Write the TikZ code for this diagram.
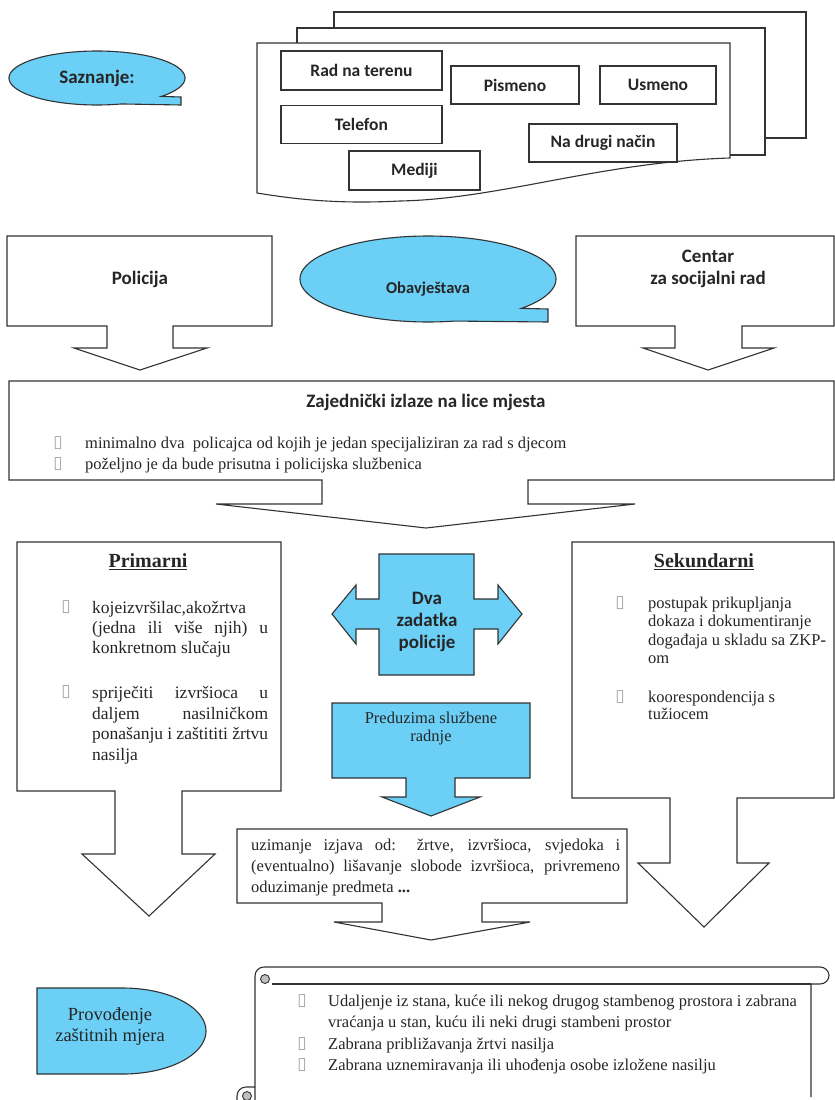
\documentclass[tikz,border=0pt]{standalone}
\usepackage{fontspec}
\setmainfont{Liberation Serif}
\newfontfamily\calfont{Carlito}
\newfontfamily\symfont{DejaVu Sans}
\definecolor{cblue}{HTML}{6BCFF6}
\definecolor{lcol}{HTML}{333333}
\definecolor{tcol}{HTML}{262626}
\newcommand\bulsym{\textcolor{black!35}{\symfont\fontsize{17}{17}\selectfont ▯}}
\tikzset{
  shp/.style={draw=lcol, line width=1.1pt, line join=miter},
  bshp/.style={shp, fill=cblue},
  wshp/.style={shp, fill=white},
  lbl/.style={font=\calfont\bfseries\fontsize{19}{22}\selectfont, text=tcol, inner sep=0pt, align=center},
  doclbl/.style={draw=lcol, line width=1.1pt, fill=white, inner sep=0pt, font=\calfont\bfseries\fontsize{17.5}{20}\selectfont, text=tcol},
  txt/.style={font=\fontsize{16.5}{20}\selectfont, text=tcol, inner sep=0pt, anchor=base west},
  ptxt/.style={font=\fontsize{17.5}{20}\selectfont, text=tcol, inner sep=0pt, anchor=base west},
  ttl/.style={font=\bfseries\fontsize{20}{22}\selectfont, text=tcol, inner sep=0pt},
  bul/.style={inner sep=0pt},
}
\begin{document}
\begin{tikzpicture}[x=1pt,y=-1pt]
\fill[white] (0,0) rectangle (835,1100);
\useasboundingbox (0,0) rectangle (835,1100);

% ---------- Saznanje callout
\draw[bshp] plot[domain=43:-286, samples=120] ({97+88*cos(\x)},{78+27*sin(\x)}) -- (181,105) -- (181,97) -- cycle;
\node[lbl] (saz) at (97,78) {Saznanje:};

% ---------- stacked documents
\draw[shp] (334,28) -- (334,12) -- (806,12) -- (806,138) -- (765,138);
\draw[shp] (297,43) -- (297,28) -- (765,28) -- (765,155) -- (730,155);
\draw[wshp] (257,43) -- (730,43) -- (730,158) .. controls (600,162) and (500,199) .. (400,201) .. controls (340,204) and (300,200) .. (257,193) -- cycle;
\node[doclbl, minimum width=161pt, minimum height=39pt] (rad) at (361.5,70.5) {Rad na terenu};
\node[doclbl, minimum width=128pt, minimum height=38pt] (pis) at (515,85) {Pismeno};
\node[doclbl, minimum width=116pt, minimum height=38pt] (usm) at (658,85) {Usmeno};
\node[doclbl, minimum width=161pt, minimum height=38pt] (tel) at (361.5,124.5) {Telefon};
\node[doclbl, minimum width=148pt, minimum height=38pt] (ndn) at (603,143) {Na drugi način};
\node[doclbl, minimum width=131pt, minimum height=39pt] (med) at (414.5,170.5) {Mediji};

% ---------- Policija / Obavjestava / Centar
\draw[wshp] (7,236) -- (272,236) -- (272,326) -- (173,326) -- (173,348) -- (207,348) -- (140,370) -- (74,348) -- (107,348) -- (107,326) -- (7,326) -- cycle;
\node[lbl] (pol) at (140,279) {Policija};
\draw[bshp] plot[domain=43:-282, samples=120] ({428+128*cos(\x)},{279+43*sin(\x)}) -- (548,322) -- (548,309) -- cycle;
\node[lbl, font=\calfont\bfseries\fontsize{16.5}{20}\selectfont] (oba) at (428,289) {Obavještava};
\draw[wshp] (576,236) -- (834,236) -- (834,326) -- (742,326) -- (742,348) -- (774,348) -- (708,370) -- (643,348) -- (675,348) -- (675,326) -- (576,326) -- cycle;
\node[lbl] (csr) at (708,269) {Centar\\za socijalni rad};

% ---------- Zajednicki
\draw[wshp] (9,381) -- (834,381) -- (834,480) -- (528,480) -- (528,504) -- (635,504) -- (426,528) -- (216,504) -- (322,504) -- (322,480) -- (9,480) -- cycle;
\node[lbl] (zaj) at (426,402) {Zajednički izlaze na lice mjesta};
\node[bul] (zb1) at (58,443) {\bulsym};
\node[bul] (zb2) at (58,464) {\bulsym};
\node[txt] (zt1) at (85,448.5) {minimalno dva~ policajca od kojih je jedan specijaliziran za rad s djecom};
\node[txt] (zt2) at (85,469.5) {poželjno je da bude prisutna i policijska službenica};

% ---------- Primarni
\draw[wshp] (17,542) -- (281,542) -- (281,791) -- (182,791) -- (182,854) -- (215,854) -- (149,916) -- (82,854) -- (115,854) -- (115,791) -- (17,791) -- cycle;
\node[ttl] (prim) at (148,562) {\underline{Primarni}};
\node[bul] (pb1) at (66,607) {\bulsym};
\node[bul] (pb2) at (66,692) {\bulsym};
\node[ptxt] (p1) at (92,613) {kojeizvršilac,akožrtva};
\node[ptxt] (p2) at (92,633) {\makebox[176pt][s]{(jedna ili više njih) u}};
\node[ptxt] (p3) at (92,653) {konkretnom slučaju};
\node[ptxt] (p4) at (92,698) {\makebox[176pt][s]{spriječiti izvršioca u}};
\node[ptxt] (p5) at (92,719) {\makebox[176pt][s]{daljem nasilničkom}};
\node[ptxt] (p6) at (92,739) {\makebox[176pt][s]{ponašanju i zaštititi žrtvu}};
\node[ptxt] (p7) at (92,760) {nasilja};

% ---------- Dva zadatka policije
\draw[bshp] (379,554) -- (474,554) -- (474,599) -- (498,599) -- (498,585) -- (522,614) -- (498,644) -- (498,629) -- (474,629) -- (474,675) -- (379,675) -- (379,629) -- (356,629) -- (356,644) -- (332,614) -- (356,585) -- (356,599) -- (379,599) -- cycle;
\node[lbl] (dva) at (427,622) {Dva\\zadatka\\policije};

% ---------- Preduzima
\draw[bshp] (332,703) -- (530,703) -- (530,778) -- (455,778) -- (455,797) -- (480,797) -- (431,816) -- (382,797) -- (406,797) -- (406,778) -- (332,778) -- cycle;
\node[font=\fontsize{16.5}{18}\selectfont, text=tcol, inner sep=0pt, align=center] (pre) at (431,729) {Preduzima službene\\radnje};

% ---------- Sekundarni
\draw[wshp] (572,542) -- (834,542) -- (834,798) -- (737,798) -- (737,863) -- (769,863) -- (704,927) -- (638,863) -- (670,863) -- (670,798) -- (572,798) -- cycle;
\node[ttl] (sek) at (704,562) {\underline{Sekundarni}};
\node[bul] (sb1) at (620,603) {\bulsym};
\node[bul] (sb2) at (620,697) {\bulsym};
\node[txt] (s1) at (648,608.5) {postupak prikupljanja};
\node[txt] (s2) at (648,626.5) {dokaza i dokumentiranje};
\node[txt] (s3) at (648,645.5) {događaja u skladu sa ZKP\textbf{-}};
\node[txt] (s4) at (648,663.5) {om};
\node[txt] (s5) at (648,702.5) {koorespondencija s};
\node[txt] (s6) at (648,719.5) {tužiocem};

% ---------- Uzimanje izjava
\draw[wshp] (237,829) -- (627,829) -- (627,903) -- (482,903) -- (482,922) -- (530,922) -- (431,940) -- (334,922) -- (382,922) -- (382,903) -- (237,903) -- cycle;
\node[txt] (u1) at (251,850) {\makebox[369pt][s]{uzimanje izjava od: žrtve, izvršioca, svjedoka i}};
\node[txt] (u2) at (251,871.5) {\makebox[369pt][s]{(eventualno) lišavanje slobode izvršioca, privremeno}};
\node[txt] (u3) at (251,892.5) {oduzimanje predmeta \textbf{...}};

% ---------- Provodjenje
\draw[bshp] (37,988) -- (123,988) -- plot[domain=-90:90, samples=60] ({123+83*cos(\x)},{1031+43*sin(\x)}) -- (37,1074) -- cycle;
\node[font=\fontsize{18.5}{21}\selectfont, text=tcol, inner sep=0pt, align=center] (prov) at (110,1027) {Provođenje\\zaštitnih mjera};

% ---------- Scroll
\draw[wshp] (255,1100) -- (255,976) .. controls (255,971) and (259,967) .. (264,967) -- (820,967) .. controls (825,967) and (829,971) .. (829,975.5) .. controls (829,980) and (825,984) .. (820,984) -- (811,984) -- (811,1097);
\draw[shp] (272,984) -- (811,984);
\draw[shp, fill=black!25, line width=0.9pt] (265,979) circle (4.5);
\draw[shp] (255,1087) -- (246,1087) .. controls (241,1087) and (237,1091) .. (237,1096) -- (237,1100);
\draw[shp, fill=black!25, line width=0.9pt] (247,1096) circle (4.5);
\node[bul] (rb1) at (302,1001) {\bulsym};
\node[bul] (rb2) at (302,1044) {\bulsym};
\node[bul] (rb3) at (302,1065) {\bulsym};
\node[txt] (r1) at (328,1006.5) {Udaljenje iz stana, kuće ili nekog drugog stambenog prostora i zabrana};
\node[txt] (r2) at (328,1027.5) {vraćanja u stan, kuću ili neki drugi stambeni prostor};
\node[txt] (r3) at (328,1049.5) {Zabrana približavanja žrtvi nasilja};
\node[txt] (r4) at (328,1070.5) {Zabrana uznemiravanja ili uhođenja osobe izložene nasilju};
\end{tikzpicture}
\end{document}
